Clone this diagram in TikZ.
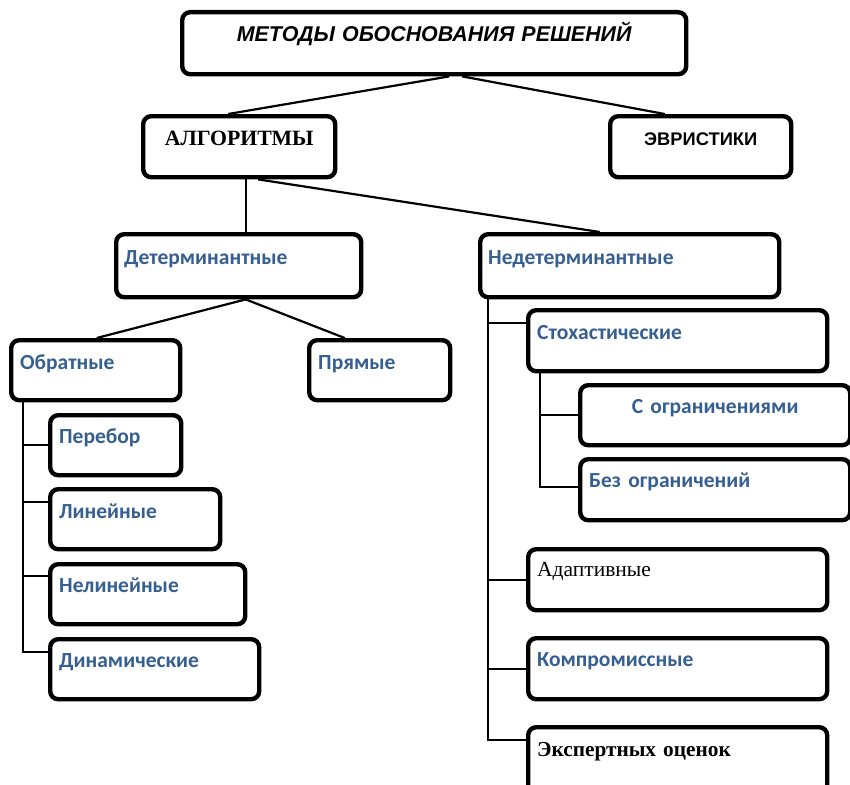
\documentclass[tikz,border=0pt]{standalone}
\usepackage{fontspec}
\setmainfont{Liberation Serif}
\newfontfamily\calfam{Carlito}
\newfontfamily\arifam{Liberation Sans}
\usetikzlibrary{calc}
\definecolor{hblue}{HTML}{365F91}
\tikzset{
  box/.style={draw=black, line width=4.4pt, rounded corners=8pt, inner xsep=9pt, inner ysep=0pt,
    anchor=north west, align=left, text height=28pt},
  bluetxt/.style={font=\calfam\bfseries\fontsize{21.5}{24}\selectfont, text=hblue},
  conn/.style={line width=2.2pt}
}
\begin{document}
\begin{tikzpicture}[x=1pt,y=-1pt]
\useasboundingbox (0,0) rectangle (850,784);
\clip (0,0) rectangle (850,784);
% top level
\node[box, minimum width=504pt, text width=486pt, text depth=33pt, align=center, text height=29pt,
  font=\arifam\bfseries\itshape\fontsize{21.4}{24}\selectfont] (top) at (180,10) {МЕТОДЫ ОБОСНОВАНИЯ РЕШЕНИЙ};
\node[box, text width=174pt, text depth=32pt, align=center, text height=29pt,
  font=\bfseries\fontsize{21.8}{24}\selectfont] (alg) at (141,114) {АЛГОРИТМЫ};
\node[box, text width=163pt, text depth=32pt, align=center, text height=29pt,
  font=\arifam\bfseries\fontsize{18.3}{21}\selectfont] (evr) at (608,114) {ЭВРИСТИКИ};
% second level
\node[box, bluetxt, text width=229pt, text depth=33pt, text height=30pt, inner xsep=8pt] (det) at (114,232) {Детерминантные};
\node[box, bluetxt, text width=283pt, text depth=33pt, text height=30pt, inner xsep=8pt] (ndet) at (478,232) {Недетерминантные};
% determinant children
\node[box, bluetxt, text width=151pt, text depth=31pt, text height=29pt] (obr) at (9,338) {Обратные};
\node[box, bluetxt, text width=123pt, text depth=31pt, text height=29pt] (pr) at (307,338) {Прямые};
\node[box, bluetxt, text width=113pt, text depth=32pt, text height=28pt] (per) at (48,413) {Перебор};
\node[box, bluetxt, text width=152pt, text depth=31pt, text height=29pt] (lin) at (48,487) {Линейные};
\node[box, bluetxt, text width=177pt, text depth=32pt, text height=28pt] (nlin) at (48,562) {Нелинейные};
\node[box, bluetxt, text width=191pt, text depth=32pt, text height=28pt] (din) at (48,637) {Динамические};
% nondeterminant children
\node[box, bluetxt, text width=281pt, text depth=32pt, text height=29pt] (sto) at (526,308) {Стохастические};
\node[box, bluetxt, text width=252pt, text depth=32pt, text height=28pt, align=center] (sogr) at (578,383) {С ограничениями};
\node[box, bluetxt, text width=252pt, text depth=33pt, text height=28pt] (bogr) at (578,457) {Без ограничений};
\node[box, text width=281pt, text depth=34pt, text height=27pt, font=\fontsize{21.5}{24}\selectfont] (adap) at (526,547) {Адаптивные};
\node[box, bluetxt, text width=281pt, text depth=33pt, text height=28pt] (komp) at (526,636) {Компромиссные};
\node[box, text width=281pt, text depth=40pt, text height=29pt, font=\bfseries\fontsize{21.3}{24}\selectfont] (eksp) at (526,725) {Экспертных оценок};
% connectors
\draw[conn] ([xshift=15pt]top.south) -- ([xshift=-11pt]alg.north);
\draw[conn] ([xshift=28pt]top.south) -- ([xshift=-36pt]evr.north);
\draw[conn] ([xshift=7pt]alg.south) -- ([xshift=7pt]alg.south |- det.north);
\draw[conn] ([xshift=19pt]alg.south) -- ([xshift=-30pt]ndet.north);
\draw[conn] ([xshift=7pt]det.south) -- ([xshift=1pt]obr.north);
\draw[conn] ([xshift=7pt]det.south) -- ([xshift=-35pt]pr.north);
% obratnye tree
\coordinate (ot) at ([xshift=14pt]obr.south west);
\draw[conn] (ot) |- ([yshift=-15pt]din.north west);
\draw[conn] (ot |- per.west) -- (per.west);
\draw[conn] (ot |- lin.north west) ++(0,15) -- ([yshift=-15pt]lin.north west);
\draw[conn] (ot |- nlin.north west) ++(0,14) -- ([yshift=-14pt]nlin.north west);
% nondet tree
\coordinate (nt) at ([xshift=10pt]ndet.south west);
\draw[conn] (nt) |- ([yshift=-15pt]eksp.north west);
\draw[conn] (nt |- sto.north west) ++(0,15) -- ([yshift=-15pt]sto.north west);
\draw[conn] (nt |- adap.west) -- (adap.west);
\draw[conn] (nt |- komp.west) -- (komp.west);
% stochastic tree
\coordinate (st) at ([xshift=14pt]sto.south west);
\draw[conn] (st) |- ([yshift=-30pt]bogr.north west);
\draw[conn] (st |- sogr.west) -- (sogr.west);
\end{tikzpicture}
\end{document}
